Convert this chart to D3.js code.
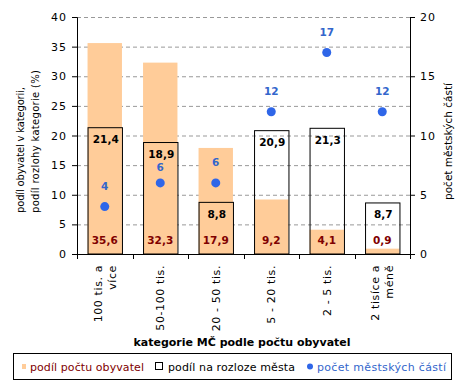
<!DOCTYPE html>
<html><head><meta charset="utf-8">
<script src="https://cdn.jsdelivr.net/npm/d3@7"></script>
<style>body{margin:0;background:#fff}svg{display:block;font-family:"DejaVu Sans",Verdana,sans-serif}</style>
</head><body>
<svg id="c" width="465" height="386"></svg>
<script>
const categories = [["100 tis. a","více"],["50-100 tis."],["20 - 50 tis."],["5 - 20 tis."],["2 - 5 tis."],["2 tisíce a","méně"]];
const popShare = [35.6, 32.3, 17.9, 9.2, 4.1, 0.9];
const areaShare = [21.4, 18.9, 8.8, 20.9, 21.3, 8.7];
const districtCount = [4, 6, 6, 12, 17, 12];
const leftTicks = [0,5,10,15,20,25,30,35,40];
const rightTicks = [0,5,10,15,20];
const fmt = v => String(v.toFixed(1)).replace(".", ",");

const svg = d3.select("#c");
const L = 77, R = 410, T = 17, B = 254;
const x = d3.scaleBand().domain(d3.range(categories.length)).range([L, R]).paddingInner(0.38).paddingOuter(0.19);
const xb = d3.scaleBand().domain(d3.range(categories.length)).range([L, R]);
const y = d3.scaleLinear().domain([0, 40]).range([B, T]);
const y2 = d3.scaleLinear().domain([0, 20]).range([B, T]);

// grid
svg.append("g").selectAll("line").data(leftTicks.filter(d => d > 0)).join("line")
  .attr("x1", L).attr("x2", R).attr("y1", d => y(d) + 0.5).attr("y2", d => y(d) + 0.5)
  .attr("stroke", "#999").attr("stroke-dasharray", "4,3");

// orange bars
svg.append("g").selectAll("rect").data(popShare).join("rect")
  .attr("x", (d, i) => x(i)).attr("width", x.bandwidth())
  .attr("y", d => y(d)).attr("height", d => B - y(d)).attr("fill", "#FFCC99");

// outline bars
svg.append("g").selectAll("rect").data(areaShare).join("rect")
  .attr("x", (d, i) => x(i) + 0.5).attr("width", x.bandwidth())
  .attr("y", d => y(d) + 0.5).attr("height", d => B - y(d) - 0.5)
  .attr("fill", "none").attr("stroke", "#000").attr("stroke-width", 1);

// axes
const ga = svg.append("g").attr("transform", `translate(${L},0)`)
  .call(d3.axisLeft(y).tickValues(leftTicks).tickSize(5).tickPadding(5));
const gr = svg.append("g").attr("transform", `translate(${R},0)`)
  .call(d3.axisRight(y2).tickValues(rightTicks).tickSize(5).tickPadding(5));
const gb = svg.append("g").attr("transform", `translate(0,${B})`)
  .call(d3.axisBottom(xb).tickValues([]).tickSize(0));
[ga, gr].forEach(g => {
  g.select(".domain").attr("stroke", "#000");
  g.selectAll(".tick line").attr("stroke", "#000");
  g.selectAll(".tick text").attr("font-size", 11).attr("letter-spacing", 1).attr("fill", "#000")
    .attr("font-family", "DejaVu Sans, sans-serif");
});
gb.select(".domain").attr("stroke", "#000");
// category boundary ticks
svg.append("g").selectAll("line").data(d3.range(categories.length + 1)).join("line")
  .attr("x1", i => Math.round(L + i * xb.step()) + 0.5).attr("x2", i => Math.round(L + i * xb.step()) + 0.5)
  .attr("y1", B).attr("y2", B + 5).attr("stroke", "#000");

// category labels rotated
const cl = svg.append("g").selectAll("text").data(categories).join("text")
  .attr("transform", (d, i) => `translate(${xb(i) + xb.bandwidth() / 2},${B + 11}) rotate(-90)`)
  .attr("text-anchor", "end").attr("font-size", 11).attr("letter-spacing", 0.6);
cl.each(function (d) {
  const n = d.length;
  d.forEach((s, j) => d3.select(this).append("tspan").attr("x", 0)
    .attr("y", (j - (n - 1) / 2) * 14 + 4).text(s));
});

// value labels
svg.append("g").selectAll("text").data(popShare).join("text")
  .attr("x", (d, i) => x(i) + x.bandwidth() / 2).attr("y", B - 10)
  .attr("text-anchor", "middle").attr("font-size", 10.5).attr("font-weight", "bold")
  .attr("fill", "#800000").text(fmt);
const areaLabelY = d => y(d) + 16;
svg.append("g").selectAll("text").data(areaShare).join("text")
  .attr("x", (d, i) => x(i) + x.bandwidth() / 2 + 1).attr("y", areaLabelY)
  .attr("text-anchor", "middle").attr("font-size", 10.5).attr("font-weight", "bold")
  .attr("fill", "#000").text(fmt);

// dots
svg.append("g").selectAll("circle").data(districtCount).join("circle")
  .attr("cx", (d, i) => xb(i) + xb.bandwidth() / 2).attr("cy", d => y2(d))
  .attr("r", 4.5).attr("fill", "#2F66E8");
// blue labels, pushed below the bar label when they would collide
const countLabelY = (d, i) => {
  let yy = y2(d) - 17;
  const ay = areaLabelY(areaShare[i]);
  if (Math.abs(yy - ay) < 12) yy = ay + 13;
  return yy;
};
svg.append("g").selectAll("text").data(districtCount).join("text")
  .attr("x", (d, i) => xb(i) + xb.bandwidth() / 2).attr("y", countLabelY)
  .attr("text-anchor", "middle").attr("font-size", 10.5).attr("font-weight", "bold")
  .attr("fill", "#3366CC").text(d => d);

// axis titles
svg.append("text").attr("transform", "translate(24,213) rotate(-90)")
  .attr("text-anchor", "start").attr("font-size", 10)
  .selectAll("tspan").data(["podíl obyvatel v kategorii,", "podíl rozlohy kategorie (%)"]).join("tspan")
  .attr("x", 0).attr("y", (d, j) => j * 15).attr("textLength", (d, j) => j ? 143 : 126)
  .attr("lengthAdjust", "spacing").text(d => d);
svg.append("text").attr("transform", "translate(452,141.5) rotate(-90)")
  .attr("text-anchor", "middle").attr("font-size", 10.5).attr("textLength", 117)
  .attr("lengthAdjust", "spacing").text("počet městských částí");
svg.append("text").attr("x", 242).attr("y", 346).attr("text-anchor", "middle")
  .attr("font-size", 11).attr("font-weight", "bold").text("kategorie MČ podle počtu obyvatel");

// legend
svg.append("rect").attr("x", 13.5).attr("y", 353.5).attr("width", 438).attr("height", 26)
  .attr("fill", "#fff").attr("stroke", "#000");
const ly = 371;
svg.append("rect").attr("x", 22).attr("y", ly - 7).attr("width", 4).attr("height", 5).attr("fill", "#FFCC99");
svg.append("text").attr("x", 30).attr("y", ly).attr("font-size", 11).attr("textLength", 114)
  .attr("lengthAdjust", "spacing").attr("fill", "#800000").text("podíl počtu obyvatel");
svg.append("rect").attr("x", 155.5).attr("y", ly - 8.5).attr("width", 7).attr("height", 7)
  .attr("fill", "#fff").attr("stroke", "#000");
svg.append("text").attr("x", 168).attr("y", ly).attr("font-size", 11).attr("textLength", 127)
  .attr("lengthAdjust", "spacing").attr("fill", "#000").text("podíl na rozloze města");
svg.append("circle").attr("cx", 310).attr("cy", ly - 4.5).attr("r", 3).attr("fill", "#2F66E8");
svg.append("text").attr("x", 317).attr("y", ly).attr("font-size", 11).attr("textLength", 129)
  .attr("lengthAdjust", "spacing").attr("fill", "#3366CC").text("počet městských částí");
</script>
</body></html>
